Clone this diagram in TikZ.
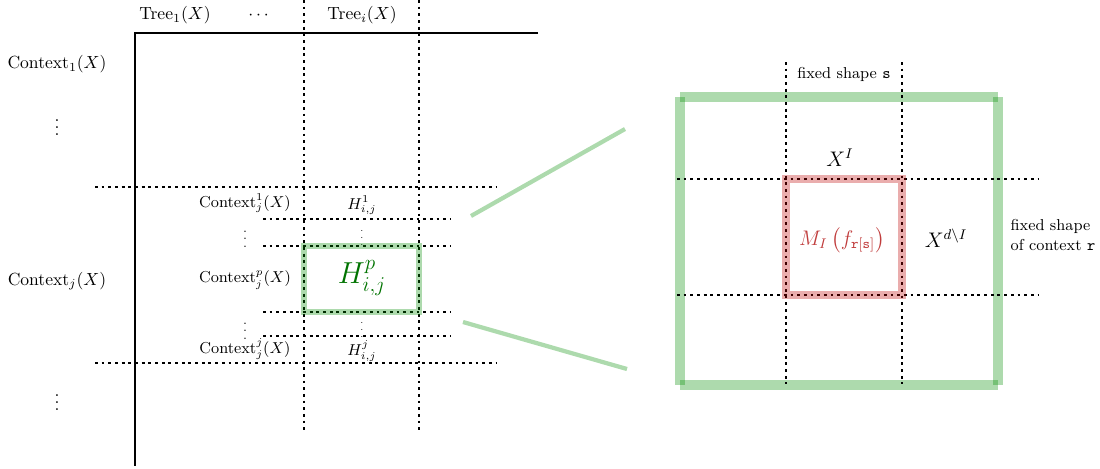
\documentclass[tikz,border=0pt]{standalone}
\usepackage{amsmath,amssymb}
\definecolor{mired}{RGB}{192,60,60}
\begin{document}
\begin{tikzpicture}[x=0.02cm,y=-0.02cm,
    grid/.style={line width=0.7pt,dash pattern=on 1.6pt off 2.2pt},
    axis/.style={line width=0.9pt},
    greenbox/.style={line width=6pt,draw=green!55!black,draw opacity=0.32},
    redbox/.style={line width=4pt,draw=red!75!black,draw opacity=0.32},
    zoomline/.style={line width=2.4pt,draw=green!55!black,draw opacity=0.32},
    lab/.style={inner sep=1pt},
    smalllab/.style={inner sep=1pt,font=\small}]
    \useasboundingbox (0,0) rectangle (1100,468);

    % Axes of the table
    \draw[axis] (538,33) -- (135,33) -- (135,466);

    % Column of tree i
    \draw[grid] (304,0) -- (304,432);
    \draw[grid] (419,0) -- (419,432);
    \node[lab] (tree1) at (175,15) {$\mathrm{Tree}_1(X)$};
    \node[lab] (treedots) at (260,16) {$\cdots$};
    \node[lab] (treei) at (362,15) {$\mathrm{Tree}_i(X)$};

    % Rows of contexts
    \node[lab] (ctx1) at (57,64) {$\mathrm{Context}_1(X)$};
    \node[lab] (ctxdots1) at (57,122) {$\vdots$};
    \node[lab] (ctxj) at (57,281) {$\mathrm{Context}_j(X)$};
    \node[lab] (ctxdots2) at (57,397) {$\vdots$};
    \draw[grid] (95,187) -- (497,187);
    \draw[grid] (95,363) -- (497,363);

    % Sub-rows of context j
    \foreach \y in {219,246,312,336} {
        \draw[grid] (263,\y) -- (450,\y);
    }
    \node[smalllab] (sub1) at (245,203) {$\mathrm{Context}_j^1(X)$};
    \node[smalllab] (h1) at (362,205) {$H_{i,j}^1$};
    \node[lab,font=\scriptsize] (subdots1) at (245,234) {$\vdots$};
    \node[lab,font=\tiny] (hdots1) at (362,233) {$\vdots$};
    \node[smalllab] (subp) at (245,280) {$\mathrm{Context}_j^p(X)$};
    \node[lab,font=\scriptsize] (subdots2) at (245,326) {$\vdots$};
    \node[lab,font=\tiny] (hdots2) at (362,325) {$\vdots$};
    \node[smalllab] (subjj) at (245,349) {$\mathrm{Context}_j^j(X)$};
    \node[smalllab] (hj) at (362,351) {$H_{i,j}^j$};

    % Selected cell
    \draw[greenbox,line width=3.5pt] (304,246) rectangle (419,312);
    \node[lab,font=\LARGE,text=green!45!black] (hp) at (362,278) {$H_{i,j}^p$};

    % Zoomed cell
    \coordinate (zoomA) at (471,216);
    \coordinate (zoomB) at (625,129);
    \coordinate (zoomC) at (463,322);
    \coordinate (zoomD) at (627,369);
    \draw[zoomline] (zoomA) -- (zoomB);
    \draw[zoomline] (zoomC) -- (zoomD);

    \draw[greenbox] (680,97) -- (998,97);
    \draw[greenbox] (680,97) -- (680,385);
    \draw[greenbox] (998,97) -- (998,385);
    \draw[greenbox] (680,385) -- (998,385);

    \draw[grid] (786,62) -- (786,384);
    \draw[grid] (902,62) -- (902,384);
    \draw[grid] (677,179) -- (1038,179);
    \draw[grid] (677,295) -- (1038,295);
    \draw[redbox] (786,179) rectangle (902,295);

    \node[smalllab] (shapes) at (844,74) {fixed shape \texttt{s}};
    \node[lab,font=\large] (xi) at (840,158) {$X^I$};
    \node[lab,font=\large,text=mired] (mi) at (842,240) {$M_I\left(f_{\texttt{r}[\texttt{s}]}\right)$};
    \node[lab,font=\large] (xdi) at (946,238) {$X^{d\setminus I}$};
    \node[smalllab,align=left] (shaper) at (1053,235) {fixed shape\\of context \texttt{r}};
\end{tikzpicture}
\end{document}
